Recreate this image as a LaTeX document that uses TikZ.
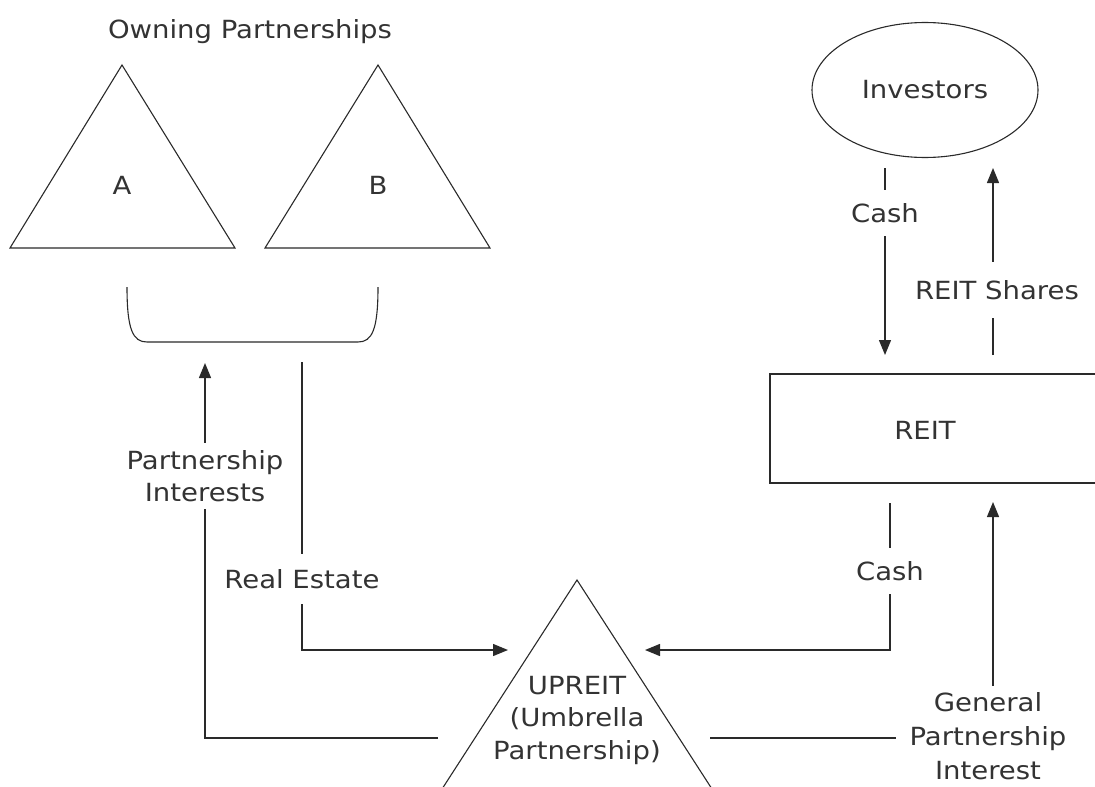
\documentclass[tikz,border=0pt]{standalone}
\usepackage{fontspec}
\setmainfont{DejaVu Sans}[FakeStretch=1.1]
\usetikzlibrary{arrows.meta,shapes.geometric}
\definecolor{lc}{HTML}{2A2A2A}
\definecolor{tc}{HTML}{333333}
\begin{document}
\begin{tikzpicture}[x=1pt,y=-1pt,
  ln/.style={draw=lc,line width=1.3pt},
  thin/.style={draw=lc,line width=1.1pt},
  arr/.style={ln,-{Triangle[length=15pt,width=12pt]}},
  lbl/.style={text=tc,font=\fontsize{25}{32.5}\selectfont,align=center,inner sep=2pt},
  gaplbl/.style={lbl,fill=white,inner xsep=4pt,inner ysep=12pt}]
\useasboundingbox (0,0) rectangle (1095,787);
% owning partnerships
\node[lbl] (own) at (250,32) {Owning Partnerships};
\draw[thin] (10,248) -- (122,65) -- (235,248) -- cycle;
\node[lbl] (A) at (122,185) {A};
\draw[thin] (265,248) -- (378,65) -- (490,248) -- cycle;
\node[lbl] (B) at (378,185) {B};
% bracket
\coordinate (brl) at (127,287);
\coordinate (brr) at (378,287);
\draw[thin] (brl) .. controls (127,330) and (133,342) .. (147,342) -- (358,342) .. controls (372,342) and (378,330) .. (brr);
% clipped shapes
\begin{scope}
\clip (0,0) rectangle (1095,787);
\draw[thin] (577,580) -- (422,820) -- (732,820) -- cycle;
\draw[thin] (1110,374) -- (770,374) -- (770,483) -- (1110,483);
\end{scope}
\coordinate (upapex) at (577,580);
\node[lbl] (upreit) at (577,720) {UPREIT\\(Umbrella\\Partnership)};
\node[lbl] (reit) at (925,430) {REIT};
\node[thin,ellipse,minimum width=226pt,minimum height=135pt,inner sep=0pt,text=tc,font=\fontsize{25}{32}\selectfont] (inv) at (925,90) {Investors};
% connector endpoints
\coordinate (brtip) at (205,363);
\coordinate (upleft) at (438,738);
\coordinate (restart) at (302,362);
\coordinate (upinL) at (508,650);
\coordinate (upinR) at (645,650);
\coordinate (reitbotL) at (890,503);
\coordinate (reitbotR) at (993,502);
\coordinate (upright) at (710,738);
\coordinate (invbotL) at (885,168);
\coordinate (reittopL) at (885,355);
\coordinate (reittopR) at (993,355);
\coordinate (invbotR) at (993,168);
% connectors
\draw[arr] (upleft) -| (brtip);
\draw[arr] (restart) |- (upinL);
\draw[arr] (reitbotL) |- (upinR);
\draw[arr] (upright) -| (reitbotR);
\draw[arr] (invbotL) -- (reittopL);
\draw[arr] (reittopR) -- (invbotR);
% labels on connectors
\node[gaplbl,inner ysep=7pt] (pi) at (205,476) {Partnership\\Interests};
\node[gaplbl,inner ysep=15pt] (re) at (302,579) {Real Estate};
\node[gaplbl,inner ysep=13pt] (cash2) at (890,571) {Cash};
\node[gaplbl,inner xsep=14pt,inner ysep=6pt,font=\fontsize{25}{34}\selectfont] (gpi) at (988,736) {General\\Partnership\\Interest};
\node[gaplbl,inner ysep=13pt] (cash1) at (885,213) {Cash};
\node[gaplbl,inner ysep=18pt] (shares) at (997,290) {REIT Shares};
\end{tikzpicture}
\end{document}
